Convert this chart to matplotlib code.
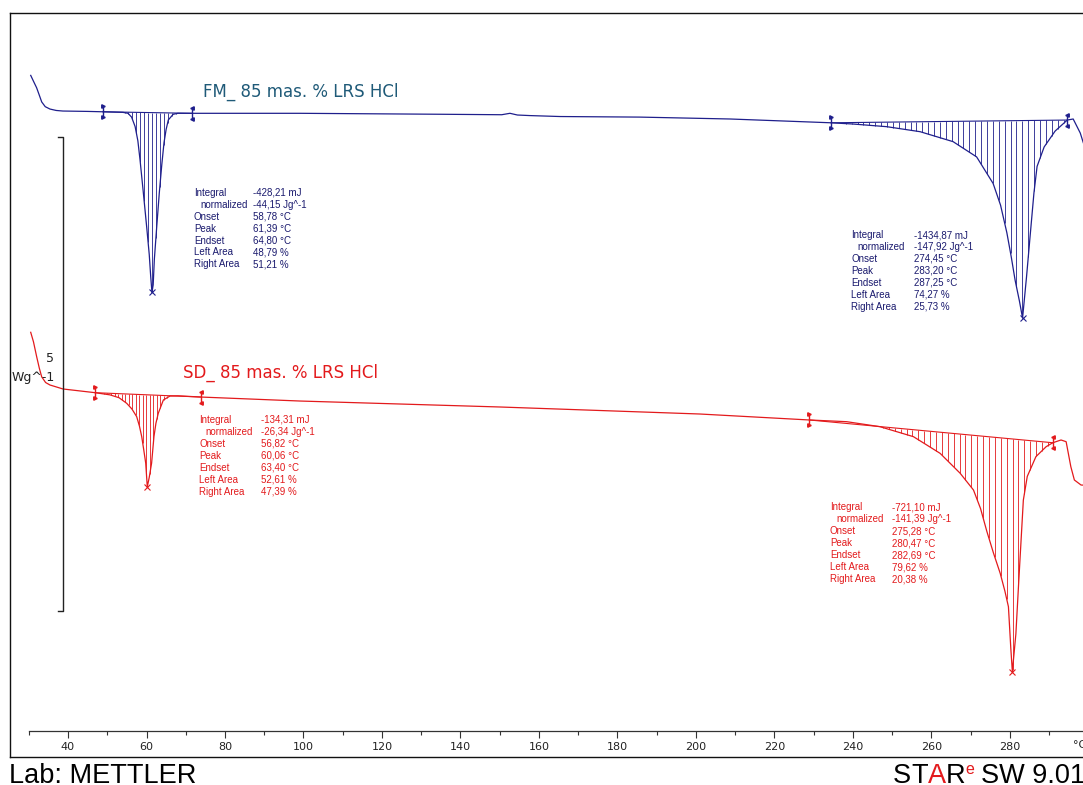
import numpy as np
import matplotlib.pyplot as plt
from matplotlib.ticker import FixedLocator

W, H = 1083, 785

# heat flow curves, W/g (curves offset like in STARe), temperature in °C
fm_temp = [30.5, 31.3, 32.0, 32.7, 33.3, 34.2, 35.4, 37.0, 38.7, 45.0, 50.0, 54.0,
           55.3, 56.2, 57.1, 57.8, 58.35, 59.2, 60.05, 60.7, 61.07, 61.39, 61.7, 62.0,
           62.6, 63.26, 63.9, 64.46, 65.0, 65.56, 66.8, 68.0, 72.0, 99.1, 134.8, 150.5,
           152.6, 154.5, 157.7, 165.4, 185.7, 208.7, 234.4, 240.0, 248.6, 257.1, 265.5,
           271.5, 275.7, 277.6, 279.2, 280.3, 281.3, 282.4, 283.2, 284.2, 285.2, 286.1,
           286.9, 288.7, 291.5, 294.6, 296.1, 297.9, 298.7, 300.0]
fm_flow = [7.19, 7.12, 7.06, 6.98, 6.91, 6.86, 6.835, 6.82, 6.814, 6.81, 6.805, 6.80,
           6.79, 6.75, 6.65, 6.50, 6.30, 5.95, 5.59, 5.30, 5.07, 4.90, 4.98, 5.25,
           5.59, 5.95, 6.25, 6.48, 6.62, 6.72, 6.78, 6.79, 6.79, 6.79, 6.78, 6.775,
           6.79, 6.772, 6.766, 6.756, 6.75, 6.73, 6.69, 6.677, 6.649, 6.596, 6.491,
           6.33, 6.05, 5.82, 5.53, 5.28, 5.03, 4.81, 4.63, 5.06, 5.53, 5.95,
           6.23, 6.435, 6.603, 6.719, 6.73, 6.582, 6.477, 6.35]

sd_temp = [30.5, 31.2, 32.03, 32.7, 33.3, 34.3, 35.41, 38.73, 46.9, 50.7, 53.0, 54.95,
           56.3, 57.5, 58.2, 58.78, 59.3, 59.8, 60.2, 60.7, 61.3, 61.9, 62.4, 63.0,
           64.3, 66.0, 68.0, 73.9, 99.1, 150.1, 201.0, 228.9, 238.4, 246.9, 255.4,
           262.2, 267.3, 270.7, 272.5, 274.1, 275.8, 277.5, 278.7, 279.6, 280.2, 280.6,
           281.5, 282.2, 283.4, 284.4, 286.6, 289.2, 290.9, 293.0, 294.3, 295.5, 296.4,
           298.1, 300.0]
sd_flow = [4.48, 4.38, 4.22, 4.10, 4.01, 3.95, 3.924, 3.882, 3.843, 3.82, 3.79, 3.731,
           3.67, 3.59, 3.49, 3.38, 3.24, 3.10, 2.85, 2.95, 3.10, 3.38, 3.52, 3.626,
           3.766, 3.808, 3.81, 3.797, 3.755, 3.692, 3.618, 3.555, 3.537, 3.484, 3.379,
           3.203, 2.993, 2.816, 2.62, 2.38, 2.15, 1.938, 1.75, 1.585, 1.15, 0.90,
           1.30, 1.83, 2.71, 2.96, 3.168, 3.273, 3.315, 3.344, 3.326, 3.062, 2.922,
           2.869, 2.865]

# integration limits (°C)
fm_limits = [(48.9, 71.6), (234.4, 294.6)]
sd_limits = [(46.9, 73.9), (228.9, 290.9)]

temp_ticks = [40, 60, 80, 100, 120, 140, 160, 180, 200, 220, 240, 260, 280]
temp_minor = [30, 50, 70, 90, 110, 130, 150, 170, 190, 210, 230, 250, 270, 290]

row_names = ["Integral", "normalized", "Onset", "Peak", "Endset", "Left Area", "Right Area"]
fm_results = [
    ["-428,21 mJ", "-44,15 Jg^-1", "58,78 °C", "61,39 °C", "64,80 °C", "48,79 %", "51,21 %"],
    ["-1434,87 mJ", "-147,92 Jg^-1", "274,45 °C", "283,20 °C", "287,25 °C", "74,27 %", "25,73 %"],
]
sd_results = [
    ["-134,31 mJ", "-26,34 Jg^-1", "56,82 °C", "60,06 °C", "63,40 °C", "52,61 %", "47,39 %"],
    ["-721,10 mJ", "-141,39 Jg^-1", "275,28 °C", "280,47 °C", "282,69 °C", "79,62 %", "20,38 %"],
]

fm_color = "#1f1f8c"
fm_text = "#1a1a6e"
fm_title = "#1f5a78"
sd_color = "#e31a1c"

px_per_wg = 94.8   # 5 Wg^-1 scale bar is 474 px high


def px(x, y):
    return x / W, 1 - y / H


def integrate(ax, T, y, t0, t1, step, color):
    y0, y1 = np.interp([t0, t1], T, y)
    ts = np.arange(t0 + step / 2, t1, step)
    base = y0 + (y1 - y0) * (ts - t0) / (t1 - t0)
    cur = np.interp(ts, T, y)
    m = cur < base
    ax.vlines(ts[m], cur[m], base[m], color=color, lw=0.6)
    ax.plot([t0, t1], [y0, y1], color=color, lw=0.8)
    half = 5.5 / px_per_wg
    for t, yy, mk in [(t0, y0, '>'), (t1, y1, '<')]:
        ax.plot([t, t], [yy - half, yy + half], color=color, lw=1.0)
        ax.plot([t, t], [yy - half, yy + half], ls='none', marker=mk, ms=2.5, color=color)
    sel = (np.array(T) > t0) & (np.array(T) < t1)
    i = np.argmin(np.where(sel, y, np.inf))
    ax.plot(T[i], y[i], marker='x', ms=4, mew=0.8, color=color)


def results(fig, x_lab, x_val, y_top, values, color):
    for k, (name, val) in enumerate(zip(row_names, values)):
        yy = y_top + k * 11.95
        dx = 6 if name == "normalized" else 0
        fig.text(*px(x_lab + dx, yy), name, fontsize=7, family='Liberation Sans',
                 color=color, va='center')
        fig.text(*px(x_val, yy), val, fontsize=7, family='Liberation Sans',
                 color=color, va='center')


fig = plt.figure(figsize=(W / 100, H / 100), dpi=100)
ax = fig.add_axes([10 / W, (H - 757) / H, (W - 10) / W, 744 / H])
ax.set_xlim(40 - 58 / 3.925, 40 + (W - 68) / 3.925)
ax.set_ylim(0, 744 / px_per_wg)
ax.set_xticks([])
ax.set_yticks([])
ax.spines['right'].set_visible(False)
for s in ['left', 'top', 'bottom']:
    ax.spines[s].set_linewidth(1.0)
    ax.spines[s].set_color('#111111')

ax.plot(fm_temp, fm_flow, color=fm_color, lw=0.9)
ax.plot(sd_temp, sd_flow, color=sd_color, lw=0.9)

for (t0, t1), st in zip(fm_limits, [1.0, 1.5]):
    integrate(ax, fm_temp, fm_flow, t0, t1, st, fm_color)
for (t0, t1), st in zip(sd_limits, [0.9, 1.5]):
    integrate(ax, sd_temp, sd_flow, t0, t1, st, sd_color)

# scale bar 5 Wg^-1
bar_x = 38.7
bar_lo, bar_hi = (757 - 611) / px_per_wg, (757 - 611) / px_per_wg + 5
ax.plot([bar_x - 1.3, bar_x, bar_x, bar_x - 1.3], [bar_hi, bar_hi, bar_lo, bar_lo],
        color='#222222', lw=1.0)
fig.text(*px(50, 359), "5", fontsize=9, color='#222222', ha='center', va='center')
fig.text(*px(33, 377), "Wg^-1", fontsize=9, color='#222222', ha='center', va='center')

# temperature axis
sec = ax.secondary_xaxis(26 / 744)
sec.xaxis.set_major_locator(FixedLocator(temp_ticks))
sec.xaxis.set_minor_locator(FixedLocator(temp_minor))
sec.spines['bottom'].set_bounds(30, 300)
sec.spines['bottom'].set_linewidth(0.9)
sec.spines['bottom'].set_color('#333333')
sec.tick_params(which='major', direction='out', length=5, width=0.8, color='#333333',
                labelsize=8, labelcolor='#222222', pad=3)
sec.tick_params(which='minor', direction='out', length=3, width=0.8, color='#333333')
fig.text(*px(1073, 745), "°C", fontsize=8, color='#222222', va='center')

# curve titles
fig.text(*px(203, 92), "FM_ 85 mas. % LRS HCl", fontsize=12, color=fm_title, va='center')
fig.text(*px(183, 372.5), "SD_ 85 mas. % LRS HCl", fontsize=12, color=sd_color, va='center')

# evaluation results
results(fig, 194, 253, 192.7, fm_results[0], fm_text)
results(fig, 851, 914, 235, fm_results[1], fm_text)
results(fig, 199, 261, 420, sd_results[0], sd_color)
results(fig, 830, 892, 507.3, sd_results[1], sd_color)

# footer
fig.text(*px(9, 783), "Lab: METTLER", fontsize=19.5, family='Liberation Sans',
         color='black', va='baseline')
fig.canvas.draw()
r = fig.canvas.get_renderer()
x = 893
for s, c, fs, base in [("S", 'black', 19.5, 783), ("T", 'black', 19.5, 783),
                       ("A", sd_color, 19.5, 783), ("R", 'black', 19.5, 783),
                       ("e", sd_color, 11.5, 774)]:
    t = fig.text(*px(x, base), s, fontsize=fs, family='Liberation Sans', color=c,
                 va='baseline')
    x += t.get_window_extent(r).width
fig.text(*px(x + 7, 783), "SW 9.01", fontsize=19.5, family='Liberation Sans',
         color='black', va='baseline')

fig.savefig("out.png", dpi=100)
